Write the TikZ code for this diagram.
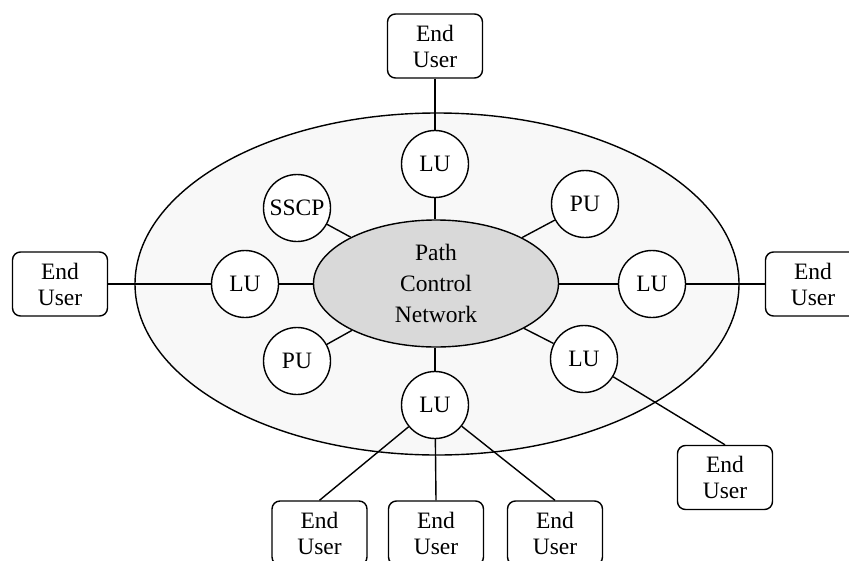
\documentclass[tikz,border=0pt]{standalone}
\usepackage{fontspec}
\setmainfont{Liberation Serif}
\usetikzlibrary{shapes.geometric}
\definecolor{outerfill}{HTML}{F8F8F8}
\definecolor{innerfill}{HTML}{D9D9D9}
\tikzset{
  every picture/.style={line width=1.4pt},
  userbox/.style={draw, rounded corners=8pt, fill=white, minimum width=95pt, minimum height=64pt,
    align=center, inner sep=0pt, font=\fontsize{23.5}{26}\selectfont},
  unit/.style={draw, circle, fill=white, minimum size=67pt, inner sep=0pt, font=\fontsize{23.5}{26}\selectfont},
  link/.style={draw, line width=1.4pt}
}
\begin{document}
\begin{tikzpicture}[x=1pt, y=-1pt]
\clip (0,0) rectangle (849,560);
\fill[white] (0,0) rectangle (849,560);
% outer domain
\draw[fill=outerfill] (437,284) ellipse [x radius=302, y radius=171];
% central path control network
\node[draw, ellipse, fill=innerfill, minimum width=245pt, minimum height=127pt, inner sep=0pt,
  align=center, font=\fontsize{23.5}{31}\selectfont] (pcn) at (436,283.5) {Path\\Control\\Network};
% units
\node[unit] (lut) at (435,164) {LU};
\node[unit] (sscp) at (297,208) {SSCP};
\node[unit] (puur) at (585,204) {PU};
\node[unit] (lul) at (245,284) {LU};
\node[unit] (lur) at (652,284) {LU};
\node[unit] (pull) at (297,361) {PU};
\node[unit] (lulr) at (584,359) {LU};
\node[unit] (lub) at (435,405) {LU};
% end users
\node[userbox] (eut) at (435,46) {End\\User};
\node[userbox] (eul) at (60,284) {End\\User};
\node[userbox] (eur) at (813,284) {End\\User};
\node[userbox] (eulr) at (725,477.5) {End\\User};
\node[userbox] (eub1) at (319.5,533) {End\\User};
\node[userbox] (eub2) at (436,533) {End\\User};
\node[userbox] (eub3) at (555,533) {End\\User};
% links to network
\draw[link] (lut) -- (lut |- pcn.north);
\draw[link] (lub) -- (lub |- pcn.south);
\draw[link] (lul) -- (lul -| pcn.west);
\draw[link] (lur) -- (lur -| pcn.east);
\draw[link] (sscp) -- (pcn);
\draw[link] (puur) -- (pcn);
\draw[link] (pull) -- (pcn);
\draw[link] (lulr) -- (pcn);
% links to end users
\draw[link] (eut) -- (lut);
\draw[link] (eul) -- (lul);
\draw[link] (eur) -- (lur);
\draw[link] (lulr) -- (eulr.north);
\draw[link] (lub) -- (eub1.north);
\draw[link] (lub) -- (eub2.north);
\draw[link] (lub) -- (eub3.north);
\end{tikzpicture}
\end{document}
